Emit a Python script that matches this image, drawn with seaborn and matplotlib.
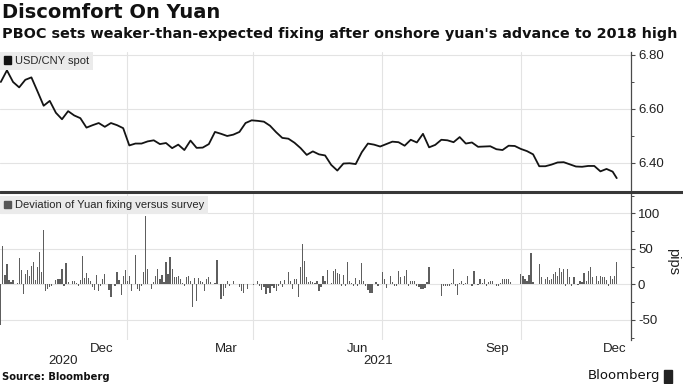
# Discomfort On Yuan -- USD/CNY spot vs. deviation of the PBOC fixing
import numpy as np
import pandas as pd
import matplotlib
matplotlib.use('Agg')
import matplotlib.pyplot as plt
from matplotlib.patches import Patch, Rectangle
from matplotlib.lines import Line2D
import matplotlib.transforms as mtransforms
import seaborn as sns

# ── Data ──────────────────────────────────────────────────────
# USD/CNY spot, every 3rd trading day; last value is the final session
SPOT = [
    6.700, 6.743, 6.700, 6.680, 6.708, 6.717, 6.665, 6.612, 6.630, 6.586,
    6.562, 6.592, 6.576, 6.566, 6.531, 6.540, 6.548, 6.534, 6.548, 6.540,
    6.529, 6.465, 6.472, 6.472, 6.480, 6.484, 6.470, 6.474, 6.455, 6.468,
    6.448, 6.483, 6.456, 6.457, 6.470, 6.515, 6.508, 6.500, 6.505, 6.515,
    6.548, 6.558, 6.556, 6.553, 6.538, 6.514, 6.493, 6.490, 6.475, 6.455,
    6.430, 6.443, 6.432, 6.428, 6.393, 6.372, 6.398, 6.399, 6.396, 6.440,
    6.472, 6.468, 6.461, 6.470, 6.479, 6.477, 6.464, 6.486, 6.476, 6.508,
    6.458, 6.467, 6.486, 6.484, 6.477, 6.496, 6.472, 6.476, 6.460, 6.461,
    6.462, 6.451, 6.448, 6.464, 6.463, 6.452, 6.444, 6.432, 6.388, 6.388,
    6.394, 6.402, 6.403, 6.395, 6.387, 6.386, 6.389, 6.389, 6.369, 6.378,
    6.368, 6.344,
]
SPOT_STEP = 3

# Deviation of yuan fixing versus survey (pips), one per trading day
DEVIATION = [
    -58, 54, 13, 29, 6, 3, 6, 1, 2, 37,
    20, -14, 15, 20, 12, 26, 32, 6, 25, 45,
    17, 77, -10, -6, -4, -2, 1, 6, 8, 8,
    21, -3, 30, 3, 0, 4, 4, 2, -2, 6,
    40, 9, 16, 9, 4, -4, -8, 13, -10, -3,
    8, 15, 1, -8, -18, 1, -3, 17, 6, -15,
    12, 20, 5, 12, -9, 0, 42, -6, -9, -2,
    17, 96, 22, 0, -7, 3, 12, 21,
    7, 13, 3, 31, 14, 38, 21, 10, 10, 12,
    7, 2, -3, 10, 12, 5, -32, 9, -23, 9,
    4, 3, -9, 8, 11, 3, 0, 2, 34, 1,
    -21, -17, -5, 5, -3, 0, 4, 1, 0, -4,
    -9, -12, 0, -7, 0, 1, -1, 0, 5,
    -3, -8, -4, -13, -5, -12, -3, -5, -10, -3,
    5, -4, 6, 0, 18, 4, -7, 7, 7, -18,
    25, 57, 33, 10, 3, 4, 3, 2,
    5, -9, -4, 12, 4, 20, 1, 2, 19,
    22, 16, 15, -3, 13, -2, 32, 5, 2, -2,
    9, -3, 6, 30, 5, -3, -8, -12, -12, 0,
    3, -3, 1, 17, 7, -5, 1, 12, 3,
    -2, -3, 19, 10, 0, 12, 20, -3, 4, 4,
    4, -2, -4, -6, -6, -5, 3, 24, 1, 0,
    0, 0, 0, -16, -2, -2, -2, -2, 2, 21,
    -3, -15, 2, 5, -1,
    2, 12, 0, -2, 19, 0, -1, 8, 2, 8,
    -3, 3, 5, 4, 0, -2, -3, 2, 8, 7,
    8, 7, 3, 0, 0, 0, 0, 15, 12,
    7, 5, 13, 44, 3, 0, 0, 28, 11, 0,
    8, 10, 6, 8, 14, 18, 12, 23, 17, 21,
    -3, 22, 10, -3, 10, 0, -1, 5, 3,
    16, 5, 19, 25, 10, 0, 12, 4, 12, 10,
    10, 6, -2, 12, 8, 12, 32,
]

# x axis is in trading days
QUARTER_STARTS = [61.9, 123.7, 186.9, 255.0]      # Jan / Apr / Jul / Oct
MONTH_LABELS = ['Dec', 'Mar', 'Jun', 'Sep', 'Dec']
MONTH_POS = [49.7, 110.4, 175.1, 243.3, 301.1]
YEAR_LABELS = ['2020', '2021']
YEAR_POS = [30.5, 185.0]

n_days = len(DEVIATION)
spot_x = list(range(0, SPOT_STEP * (len(SPOT) - 1), SPOT_STEP)) + [n_days - 1]
spot_df = pd.DataFrame({'day': spot_x, 'spot': SPOT})
dev_df = pd.DataFrame({'day': np.arange(n_days), 'pips': DEVIATION})

# ── Style ─────────────────────────────────────────────────────
sns.set_style('white')
plt.rcParams['font.family'] = ['Liberation Sans Narrow', 'Liberation Sans', 'DejaVu Sans']

GRID = '#e3e3e3'
AXIS = '#4a4a4a'
W, H = 683, 384

fig = plt.figure(figsize=(W / 100, H / 100), dpi=100)
ax_top = fig.add_axes([0, (H - 190) / H, 631 / W, 138 / H])
ax_bot = fig.add_axes([0, (H - 340) / H, 631 / W, 146.5 / H])

XLIM = (-0.4, 309)

# ── Top panel: spot line ──────────────────────────────────────
sns.lineplot(data=spot_df, x='day', y='spot', ax=ax_top,
             color='#141414', linewidth=1.3)
ax_top.set_ylim(6.30, 6.811)
ax_top.set_yticks([6.40, 6.60, 6.80])
ax_top.set_yticklabels(['6.40', '6.60', '6.80'])
ax_top.set_yticks([6.50, 6.70], minor=True)

# ── Bottom panel: deviation bars ──────────────────────────────
sns.barplot(data=dev_df, x='day', y='pips', ax=ax_bot, native_scale=True,
            color='#5e5e5e', width=0.6, errorbar=None, linewidth=0,
            saturation=1)
ax_bot.set_ylim(-78.5, 128)
ax_bot.set_yticks([-50, 0, 50, 100])
ax_bot.set_yticklabels(['-50', '0', '50', '100'])
ax_bot.set_yticks([-75, -25, 25, 75, 125], minor=True)

for ax in (ax_top, ax_bot):
    ax.set_xlim(*XLIM)
    ax.set_xlabel('')
    ax.set_ylabel('')
    ax.set_axisbelow(True)
    ax.yaxis.tick_right()
    ax.set_xticks(QUARTER_STARTS)
    ax.grid(True, which='major', color=GRID, linewidth=0.8)
    for side in ('top', 'left', 'bottom'):
        ax.spines[side].set_visible(False)
    ax.spines['right'].set_color(AXIS)
    ax.spines['right'].set_linewidth(0.9)
    ax.tick_params(axis='y', which='major', direction='out', length=3,
                   width=0.8, color=AXIS, labelsize=9.5, pad=2,
                   labelcolor='#222222')
    ax.tick_params(axis='y', which='minor', direction='out', length=2,
                   width=0.7, color=AXIS)

ax_top.tick_params(axis='x', which='both', length=0, labelbottom=False)

# month labels sit mid-month, quarter lines run down past the axis
ax_bot.set_xticklabels([''] * len(QUARTER_STARTS))
ax_bot.tick_params(axis='x', which='major', direction='out', length=9,
                   width=0.8, color=GRID)
ax_bot.set_xticks(MONTH_POS, minor=True)
ax_bot.set_xticklabels(MONTH_LABELS, minor=True)
ax_bot.tick_params(axis='x', which='minor', length=0, labelsize=9.5,
                   pad=2, labelcolor='#222222')
trans = mtransforms.blended_transform_factory(ax_bot.transData, fig.transFigure)
for lab, pos in zip(YEAR_LABELS, YEAR_POS):
    ax_bot.text(pos, 1 - 361 / H, lab, transform=trans, ha='center',
                va='center', fontsize=9.5, color='#222222')

# ── Legends ───────────────────────────────────────────────────
leg_kw = dict(loc='upper left', borderaxespad=0, frameon=True, fancybox=False,
              facecolor='#ebebeb', edgecolor='none', framealpha=1,
              handlelength=0.65, handleheight=0.65, handletextpad=0.35,
              borderpad=0.35, fontsize=8)
ax_top.legend(handles=[Patch(color='#111111', label='USD/CNY spot')],
              bbox_to_anchor=(0, 1), **leg_kw)
ax_bot.legend(handles=[Patch(color='#555555',
                             label='Deviation of Yuan fixing versus survey')],
              bbox_to_anchor=(0, 0.98), **leg_kw)

# ── Panel separator, titles, footer ───────────────────────────
fig.add_artist(Line2D([0, 1], [1 - 192 / H] * 2, transform=fig.transFigure,
                      color='#383838', linewidth=2.2))
fig.text(1 - 10 / W, 1 - 262 / H, 'pips', rotation=270, ha='center',
         va='center', fontsize=10.5, color='#222222')

fig.text(2 / W, 1 - 13 / H, 'Discomfort On Yuan', fontsize=14,
         weight='bold', va='center', family='DejaVu Sans', color='#111111')
fig.text(2 / W, 1 - 34 / H,
         "PBOC sets weaker-than-expected fixing after onshore yuan's advance to 2018 high",
         fontsize=10.4, weight='bold', va='center', family='DejaVu Sans',
         color='#111111')
fig.text(2 / W, 1 - 377 / H, 'Source: Bloomberg', fontsize=7.2,
         weight='bold', va='center', family='DejaVu Sans', color='#111111')
fig.text(660 / W, 1 - 376 / H, 'Bloomberg', fontsize=9.5, ha='right',
         va='center', family='DejaVu Sans', color='#111111')
fig.add_artist(Rectangle((664 / W, 1 - 383 / H), 8 / W, 13 / H,
                         transform=fig.transFigure, color='#222222'))

fig.savefig('out.png', dpi=100)
plt.close(fig)
